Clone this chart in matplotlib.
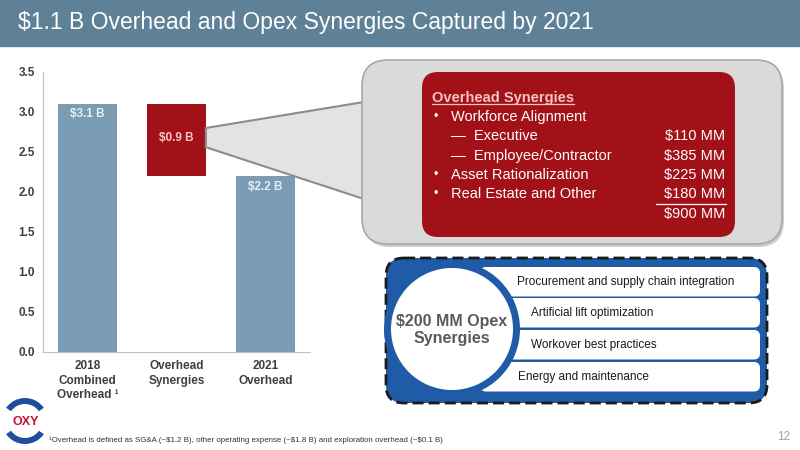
import matplotlib
matplotlib.use('Agg')

import matplotlib.pyplot as plt
import matplotlib.patches as mpatches
import numpy as np

# -----------------------------
# STYLE
# -----------------------------
plt.rcParams.update({
    'font.family': ['Liberation Sans', 'DejaVu Sans'],
    'axes.linewidth': 0.8,
})

# -----------------------------
# DATA
# -----------------------------
categories = ['2018\nCombined\nOverhead \u00b9', 'Overhead\nSynergies', '2021\nOverhead']
bar_values = [3.1, 0.9, 2.2]
bar_labels = ['$3.1 B', '$0.9 B', '$2.2 B']
yticks = [0.0, 0.5, 1.0, 1.5, 2.0, 2.5, 3.0, 3.5]

synergy_items = ['Workforce Alignment', 'Executive', 'Employee/Contractor',
                 'Asset Rationalization', 'Real Estate and Other']
synergy_kinds = ['bullet', 'dash', 'dash', 'bullet', 'bullet']
synergy_values = ['', '$110 MM', '$385 MM', '$225 MM', '$180 MM']
synergy_total = '$900 MM'

opex_items = ['Procurement and supply chain integration',
              'Artificial lift optimization',
              'Workover best practices',
              'Energy and maintenance']

BLUE_BAR = '#7b9cb5'
RED = '#a31118'
TITLE_BG = '#5f8197'
DARK_BLUE = '#1f5ba6'
TEXT = '#404040'

# -----------------------------
# FIGURE
# -----------------------------
fig = plt.figure(figsize=(8, 4.5), dpi=100)
fig.patch.set_facecolor('white')

ax = fig.add_axes([43 / 800, (450 - 352) / 450, (310 - 43) / 800, (352 - 72) / 450])

x = np.arange(len(categories))
bottoms = [0, bar_values[0] - bar_values[1], 0]
colors = [BLUE_BAR, RED, BLUE_BAR]
ax.bar(x, bar_values, bottom=bottoms, width=0.66, color=colors, zorder=2)

# labels on bars
label_y = [bar_values[0] - 0.13, bottoms[1] + 0.48, bar_values[2] - 0.14]
label_c = ['#e6edf3', '#f3c6c6', '#e6edf3']
for i in range(3):
    ax.text(x[i], label_y[i], bar_labels[i], ha='center', va='center',
            fontsize=8.5, fontweight='bold', color=label_c[i], parse_math=False, zorder=3)

ax.set_xlim(-0.5, 2.5)
ax.set_ylim(0, 3.5)
ax.set_yticks(yticks)
ax.set_yticklabels([f'{v:.1f}' for v in yticks], fontsize=8.5, color=TEXT, fontweight='bold')
ax.set_xticks(x)
ax.set_xticklabels(categories, fontsize=8.5, color=TEXT, fontweight='bold', linespacing=1.25)
ax.tick_params(length=0, pad=6)
for s in ['top', 'right']:
    ax.spines[s].set_visible(False)
for s in ['left', 'bottom']:
    ax.spines[s].set_color('#c0c0c0')

# -----------------------------
# OVERLAY (pixel coordinates)
# -----------------------------
ov = fig.add_axes([0, 0, 1, 1], zorder=5)
ov.set_xlim(0, 800)
ov.set_ylim(450, 0)
ov.axis('off')
ov.patch.set_alpha(0)


def to_px(xv, yv):
    dx, dy = ax.transData.transform((xv, yv))
    return dx, 450 - dy


# title bar
ov.add_patch(mpatches.Rectangle((0, 0), 800, 46, color=TITLE_BG, zorder=1))
ov.text(18, 23, '$1.1 B Overhead and Opex Synergies Captured by 2021', color='white',
        fontsize=16.5, ha='left', va='center', parse_math=False, zorder=2)

# connector from red bar to callout
p1 = to_px(1 + 0.33, 2.8)
p2 = to_px(1 + 0.33, 2.56)
conn = mpatches.Polygon([p1, (370, 101), (370, 201), p2], closed=True,
                        facecolor='#e3e3e3', edgecolor='#8c8c8c', lw=1.5, zorder=2)
ov.add_patch(conn)

# gray callout box with shadow
ov.add_patch(mpatches.FancyBboxPatch((364, 63), 420, 184,
             boxstyle='round,pad=0,rounding_size=26', facecolor='#9a9a9a',
             edgecolor='none', alpha=0.5, zorder=3))
ov.add_patch(mpatches.FancyBboxPatch((362, 60), 420, 184,
             boxstyle='round,pad=0,rounding_size=26', facecolor='#dadada',
             edgecolor='#a8a8a8', lw=1.2, zorder=4))

# red inner box
ov.add_patch(mpatches.FancyBboxPatch((422, 72), 313, 165,
             boxstyle='round,pad=0,rounding_size=16', facecolor=RED,
             edgecolor='none', zorder=5))

head = ov.text(432, 98, 'Overhead Synergies', color='#f3c6c6', fontsize=10.5,
               fontweight='bold', ha='left', va='center', zorder=6)
fig.canvas.draw()
bb = head.get_window_extent()
ov.plot([bb.x0, bb.x1], [104, 104], color='#f3c6c6', lw=0.9, zorder=6)

row_y = 117
for item, kind, val in zip(synergy_items, synergy_kinds, synergy_values):
    if kind == 'bullet':
        ov.text(434, row_y, '\u2022', color='white', fontsize=9, ha='left', va='center', zorder=6)
        ov.text(451, row_y, item, color='white', fontsize=10.5, ha='left', va='center', zorder=6)
    else:
        ov.text(451, row_y, '\u2014  ' + item, color='white', fontsize=10.5,
                ha='left', va='center', zorder=6)
    if val:
        ov.text(725, row_y, val, color='white', fontsize=10.5, ha='right',
                va='center', parse_math=False, zorder=6)
    row_y += 19.3
ov.plot([656, 726], [204, 204], color='white', lw=0.9, zorder=6)
ov.text(725, row_y, synergy_total, color='white', fontsize=10.5, ha='right',
        va='center', parse_math=False, zorder=6)

# opex box
ov.add_patch(mpatches.FancyBboxPatch((386, 258), 381, 145,
             boxstyle='round,pad=0,rounding_size=18', facecolor=DARK_BLUE,
             edgecolor='#1a1a1a', lw=2, linestyle=(0, (4, 1.8)), zorder=3))

row_tops = [267, 298, 330, 362]
row_h = 29.5
text_x = [517, 531, 531, 518]
for top, label, tx in zip(row_tops, opex_items, text_x):
    ov.add_patch(mpatches.FancyBboxPatch((480, top), 280, row_h,
                 boxstyle='round,pad=0,rounding_size=6', facecolor='white',
                 edgecolor='none', zorder=4))
    ov.text(tx, top + row_h / 2, label, color='#1a1a1a', fontsize=8.5,
            ha='left', va='center', zorder=6)

ov.add_patch(mpatches.Circle((452, 329), 68, facecolor=DARK_BLUE, edgecolor='none', zorder=5))
ov.add_patch(mpatches.Circle((452, 329), 61, facecolor='white', edgecolor='none', zorder=5))
ov.text(452, 330, '$200 MM Opex\nSynergies', color='#5a5a5a', fontsize=11.5,
        fontweight='bold', ha='center', va='center', linespacing=1.15,
        parse_math=False, zorder=6)

# logo
ov.add_patch(mpatches.Wedge((25, 421), 23, 215, 325, width=6, facecolor='#1f4e9a',
             edgecolor='none', zorder=3))
ov.add_patch(mpatches.Wedge((25, 421), 23, 35, 145, width=6, facecolor='#1f4e9a',
             edgecolor='none', zorder=3))
ov.text(26, 422, 'OXY', color='#c8102e', fontsize=9, fontweight='bold',
        ha='center', va='center', zorder=4)

# footnote and page number
ov.text(49, 440, '\u00b9Overhead is defined as SG&A (~$1.2 B), other operating expense '
        '(~$1.8 B) and exploration overhead (~$0.1 B)', color='#333333',
        fontsize=5.7, ha='left', va='center', parse_math=False)
ov.text(790, 437, '12', color='#a0a0a0', fontsize=8.5, ha='right', va='center')

plt.savefig('out.png', dpi=100)
plt.close()
